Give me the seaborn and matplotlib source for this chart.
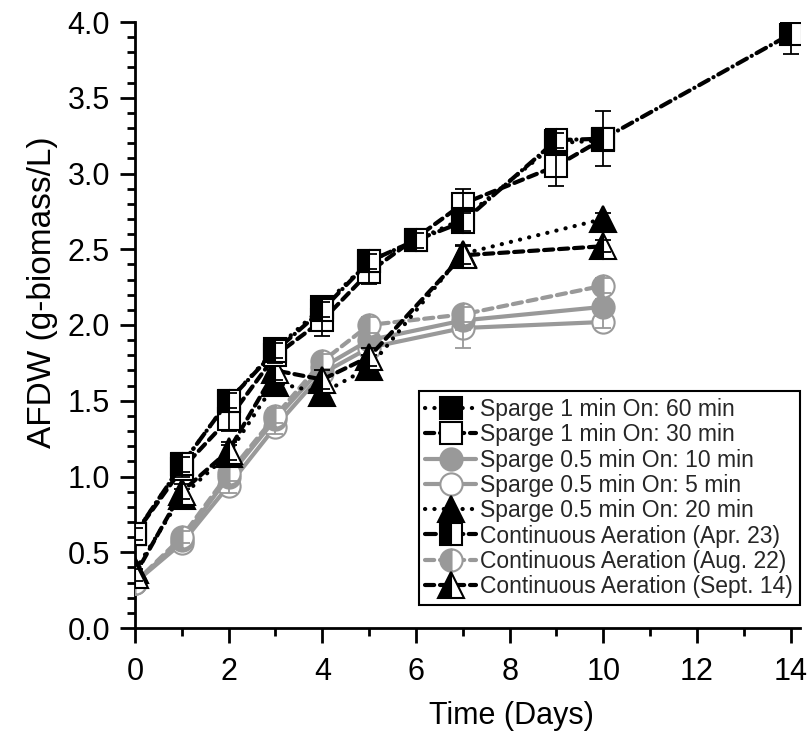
import numpy as np
import pandas as pd
import matplotlib
matplotlib.use("Agg")
import matplotlib.pyplot as plt
import seaborn as sns

# ---- data ----
days_sq = [0, 1, 2, 3, 4, 5, 6, 7, 9, 10]
s60_y   = [0.62, 1.08, 1.50, 1.84, 2.12, 2.42, 2.56, 2.70, 3.20, 3.22]
s60_e   = [0.03, 0.05, 0.05, 0.05, 0.05, 0.05, 0.04, 0.05, 0.05, 0.05]

days_s30 = [0, 1, 2, 3, 4, 5, 7, 9, 10]
s30_y    = [0.62, 1.05, 1.38, 1.80, 2.03, 2.35, 2.80, 3.05, 3.23]
s30_e    = [0.04, 0.05, 0.08, 0.05, 0.10, 0.08, 0.10, 0.13, 0.06]

days_c = [0, 1, 2, 3, 4, 5, 7, 10]
s10_y  = [0.30, 0.58, 1.00, 1.38, 1.72, 1.90, 2.03, 2.12]
s10_e  = [0.03, 0.04, 0.05, 0.05, 0.05, 0.05, 0.06, 0.05]
s5_y   = [0.30, 0.56, 0.94, 1.33, 1.68, 1.85, 1.98, 2.02]
s5_e   = [0.03, 0.04, 0.05, 0.05, 0.05, 0.06, 0.13, 0.04]

days_t = [0, 1, 2, 3, 4, 5, 7, 10]
s20_y  = [0.38, 0.87, 1.15, 1.62, 1.55, 1.72, 2.47, 2.70]
s20_e  = [0.04, 0.05, 0.06, 0.08, 0.06, 0.08, 0.06, 0.04]

days_apr = [0, 1, 2, 3, 4, 5, 6, 7, 9, 10, 14]
apr_y    = [0.62, 1.08, 1.50, 1.83, 2.10, 2.42, 2.56, 2.68, 3.22, 3.23, 3.92]
apr_e    = [0.04, 0.05, 0.05, 0.05, 0.05, 0.05, 0.05, 0.06, 0.05, 0.18, 0.13]

aug_y = [0.30, 0.60, 1.02, 1.40, 1.76, 2.00, 2.07, 2.26]
aug_e = [0.03, 0.04, 0.05, 0.05, 0.05, 0.05, 0.05, 0.05]

sep_y = [0.35, 0.90, 1.17, 1.70, 1.64, 1.79, 2.46, 2.52]
sep_e = [0.04, 0.05, 0.06, 0.06, 0.06, 0.06, 0.06, 0.04]

labels = ["Sparge 1 min On: 60 min", "Sparge 1 min On: 30 min",
          "Sparge 0.5 min On: 10 min", "Sparge 0.5 min On: 5 min",
          "Sparge 0.5 min On: 20 min", "Continuous Aeration (Apr. 23)",
          "Continuous Aeration (Aug. 22)", "Continuous Aeration (Sept. 14)"]

x_ticks = [0, 2, 4, 6, 8, 10, 12, 14]
y_ticks = [0.0, 0.5, 1.0, 1.5, 2.0, 2.5, 3.0, 3.5, 4.0]

# ---- style ----
sns.set_theme(style="ticks")
plt.rcParams["font.family"] = ["Liberation Sans", "DejaVu Sans"]

GRAY = "#999999"
BLK = "black"

fig = plt.figure(figsize=(8.10, 7.48), dpi=100)
ax = fig.add_axes([135/810, 1 - 628/748, 665/810, 606/748])

series = [
    # x, y, err, label, color, marker, fillstyle, mfc, mfc_alt, mec, linestyle
    (days_sq, s60_y, s60_e, labels[0], BLK, "s", "full", BLK, "white", BLK, (0, (0.05, 2.2))),
    (days_s30, s30_y, s30_e, labels[1], BLK, "s", "full", "white", "white", BLK, (0, (2.2, 1.4))),
    (days_c, s10_y, s10_e, labels[2], GRAY, "o", "full", GRAY, "white", GRAY, "-"),
    (days_c, s5_y, s5_e, labels[3], GRAY, "o", "full", "white", "white", GRAY, "-"),
    (days_t, s20_y, s20_e, labels[4], BLK, "^", "full", BLK, "white", BLK, (0, (0.05, 2.2))),
    (days_apr, apr_y, apr_e, labels[5], BLK, "s", "left", BLK, "white", BLK, (0, (2.6, 1.3, 0.05, 1.3))),
    (days_c, aug_y, aug_e, labels[6], GRAY, "o", "left", GRAY, "white", GRAY, (0, (2.2, 1.4))),
    (days_t, sep_y, sep_e, labels[7], BLK, "^", "left", BLK, "white", BLK, (0, (2.2, 1.4))),
]

order = [3, 2, 6, 4, 7, 1, 0, 5]
handles = {}
for z, i in enumerate(order):
    x, y, e, lab, col, mk, fs, mfc, mfa, mec, ls = series[i]
    df = pd.DataFrame({"Day": x, "AFDW": y})
    ms = 19 if mk == "^" else 16
    sns.lineplot(data=df, x="Day", y="AFDW", ax=ax, color=col, linestyle=ls,
                 linewidth=3.0, marker=mk, markersize=ms, fillstyle=fs,
                 markerfacecolor=mfc, markerfacecoloralt=mfa,
                 markeredgecolor=mec, markeredgewidth=1.5,
                 dash_capstyle="round", solid_capstyle="round",
                 estimator=None, errorbar=None, label=lab, zorder=3 + 2*z)
    handles[i] = ax.lines[-1]
    ax.errorbar(x, y, yerr=e, fmt="none", ecolor=(GRAY if col == GRAY else BLK),
                elinewidth=1.3, capsize=6, capthick=1.3, zorder=4 + 2*z)

ax.set_xlim(0, 14.2)
ax.set_ylim(0, 4.0)
ax.set_xticks(x_ticks)
ax.set_yticks(y_ticks)
ax.set_xticklabels([str(t) for t in x_ticks])
ax.set_yticklabels([f"{t:.1f}" for t in y_ticks])
ax.xaxis.set_minor_locator(matplotlib.ticker.MultipleLocator(1))
ax.yaxis.set_minor_locator(matplotlib.ticker.MultipleLocator(0.1))
ax.tick_params(axis="both", which="major", direction="out", length=11, width=2,
               labelsize=22, color="black", labelcolor="black")
ax.tick_params(axis="both", which="minor", direction="out", length=6, width=2,
               color="black")
ax.tick_params(axis="x", pad=10)
ax.tick_params(axis="y", pad=7)
for s in ["top", "right"]:
    ax.spines[s].set_visible(False)
for s in ["left", "bottom"]:
    ax.spines[s].set_linewidth(2)
    ax.spines[s].set_color("black")

ax.set_xlabel("Time (Days)", fontsize=22, color="black")
ax.xaxis.set_label_coords((511 - 135) / 665, (628 - 716) / 606)
ax.xaxis.label.set_va("center")
ax.set_ylabel("AFDW (g-biomass/L)", fontsize=24, color="black")
ax.yaxis.set_label_coords((42 - 135) / 665, (628 - 292) / 606)
ax.yaxis.label.set_va("center")

leg = ax.legend([handles[i] for i in range(8)], labels, loc="lower right",
                bbox_to_anchor=(1.0, 0.038), fontsize=16.5, frameon=True,
                fancybox=False, edgecolor="black", framealpha=1,
                handlelength=2.2, handletextpad=0.2, labelspacing=0.1,
                borderpad=0.3, borderaxespad=0.0)
leg.get_frame().set_linewidth(1.5)
leg.set_zorder(50)

fig.savefig("out.png", dpi=100)
